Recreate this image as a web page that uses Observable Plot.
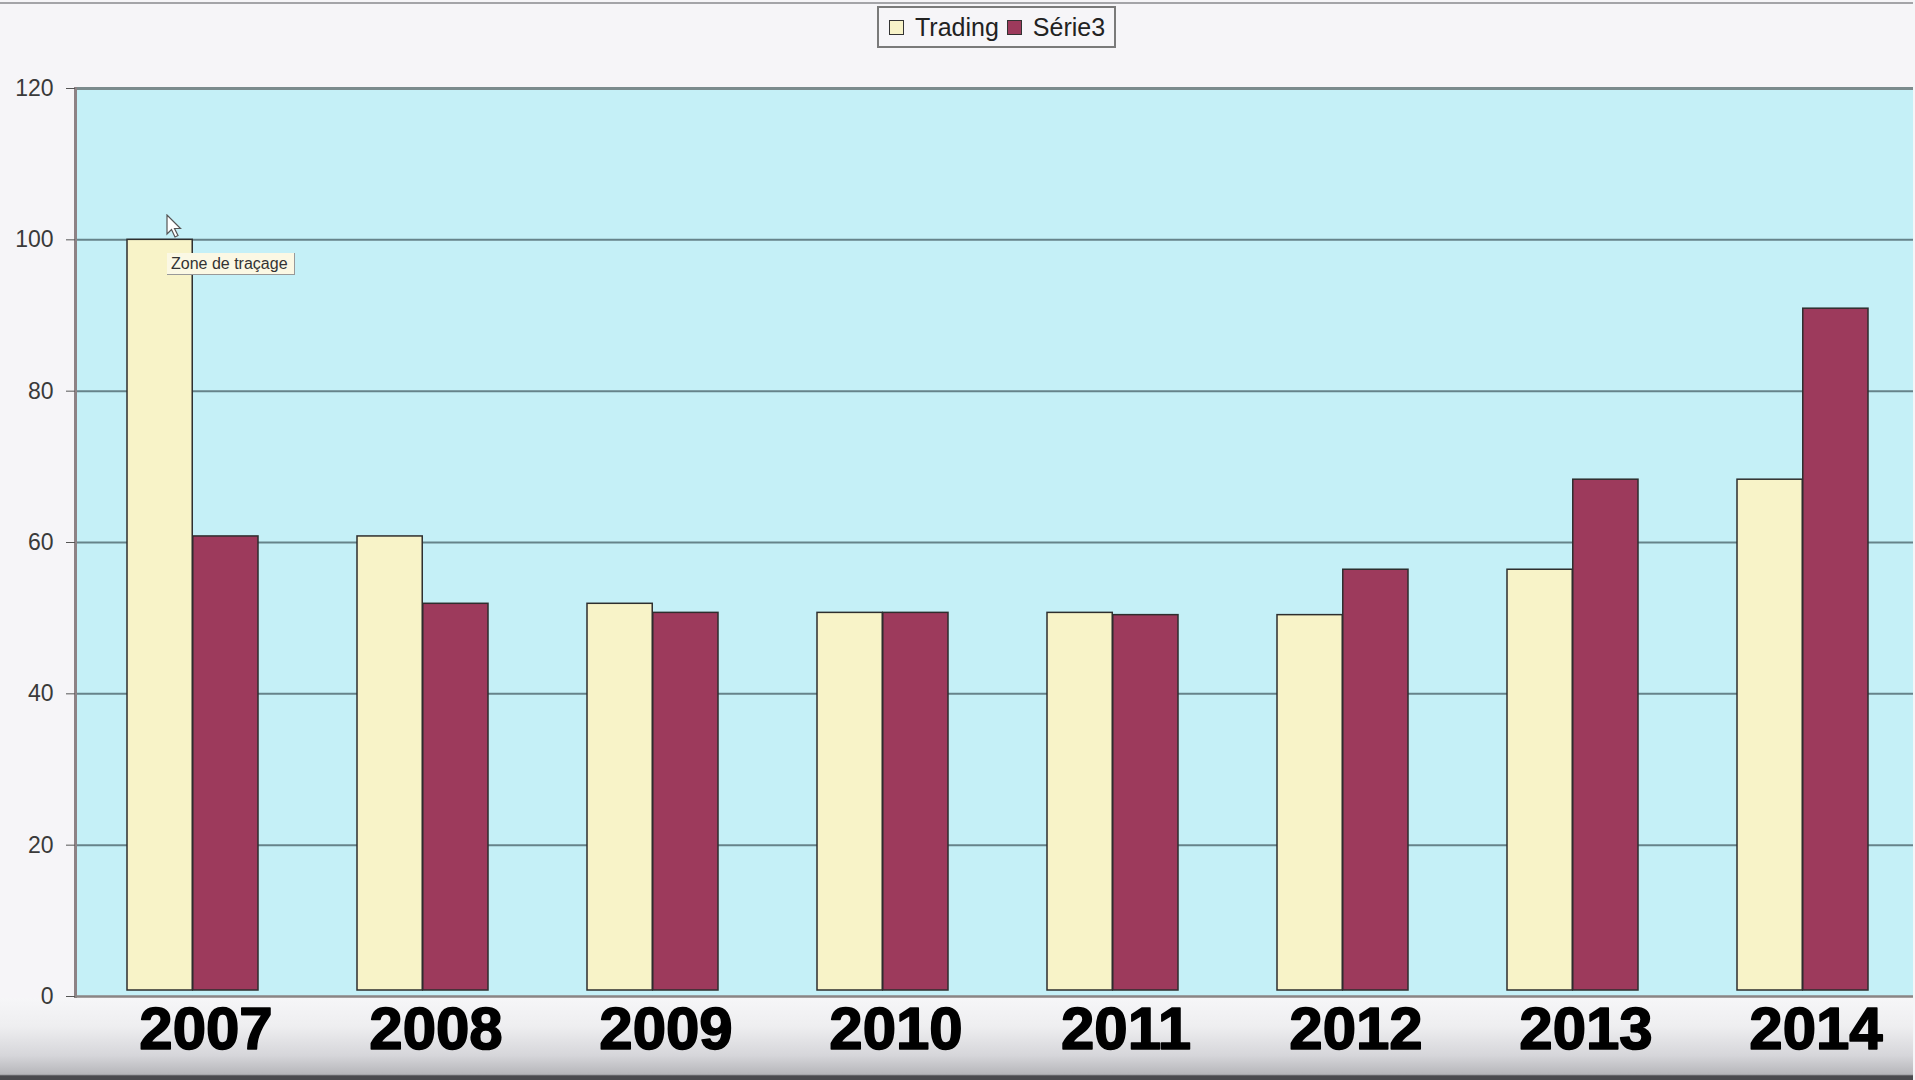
<!DOCTYPE html>
<html>
<head>
<meta charset="utf-8">
<script src="https://cdn.jsdelivr.net/npm/d3@7"></script>
<script src="https://cdn.jsdelivr.net/npm/@observablehq/plot@0.6"></script>
<style>
  html, body { margin: 0; padding: 0; background: #f6f5f8; overflow: hidden; }
  #page { position: relative; width: 1913px; height: 1080px; overflow: hidden; background: #f6f5f8; font-family: "Liberation Sans", Arial, sans-serif; }
  #topline { position: absolute; left: 0; top: 2px; width: 100%; height: 2px; background: #a4a4a8; }
  #bottomband { position: absolute; left: 0; top: 998px; width: 100%; height: 82px;
    background: linear-gradient(to bottom, #f6f6f8 0%, #eeeef0 35%, #d6d6da 70%, #b6b6ba 93%, #4a4a4e 95%, #4a4a4e 100%); }
  #chart { position: absolute; left: 0; top: 0; width: 1932px; }
  #chart svg { max-width: none !important; }
  #legend { position: absolute; left: 877px; top: 6px; height: 38px; border: 2px solid #7a7a7a; background: #f6f5f8;
    display: flex; align-items: center; padding: 0 9px 0 10px; gap: 8px; font-size: 25px; color: #222; }
  .item { display: flex; align-items: center; gap: 11px; }
  .sw { width: 13px; height: 13px; border: 1.5px solid #333; }
  #tip { position: absolute; left: 167px; top: 253px; width: 128px; height: 22px; background: #fbf8e4;
    border-right: 1px solid #999; border-bottom: 1px solid #999; font-size: 16px; color: #333; line-height: 22px; padding-left: 4px; box-sizing: border-box; white-space: nowrap; }
  #cursor { position: absolute; left: 166px; top: 214px; }
</style>
</head>
<body>
<div id="page">
  <div id="topline"></div>
  <div id="bottomband"></div>
  <div id="chart"></div>
  <div id="legend"></div>
  <div id="tip">Zone de traçage</div>
  <svg id="cursor" width="20" height="26"><path d="M1,1 L1,20 L5.5,15.5 L9,23 L12,21.5 L8.5,14.5 L14.5,14.5 Z" fill="#fff" stroke="#555" stroke-width="1.2"/></svg>
</div>
<script>
const years = ["2007", "2008", "2009", "2010", "2011", "2012", "2013", "2014"];
const seriesNames = ["Trading", "Série3"];
const trading = [100, 60.8, 51.9, 50.7, 50.7, 50.4, 56.4, 68.3];
const serie3 = [60.8, 51.9, 50.7, 50.7, 50.4, 56.4, 68.3, 90.9];
const yTicks = [0, 20, 40, 60, 80, 100, 120];
const colors = ["#f8f3c8", "#9d3a5c"];

const W = 1932, H = 1080;
const mL = 75, mR = 11, mT = 88, mB = 84;
const pInner = 0.43, pOuter = 0.215;
const bw = d3.scaleBand().domain(years).range([mL, W - mR]).paddingInner(pInner).paddingOuter(pOuter).bandwidth();
const half = bw / 2;

const rowsT = years.map((y, i) => ({year: y, series: seriesNames[0], value: trading[i]}));
const rowsS = years.map((y, i) => ({year: y, series: seriesNames[1], value: serie3[i]}));

const chart = Plot.plot({
  width: W, height: H,
  marginLeft: mL, marginRight: mR, marginTop: mT, marginBottom: mB,
  style: {background: "transparent", fontFamily: "'Liberation Sans', Arial, sans-serif", maxWidth: "none"},
  x: {type: "band", domain: years, paddingInner: pInner, paddingOuter: pOuter, label: null},
  y: {domain: [0, 120], label: null},
  color: {domain: seriesNames, range: colors},
  marks: [
    Plot.frame({fill: "#c5f0f7", stroke: "none"}),
    Plot.gridY(yTicks.filter(d => d > 0 && d < 120), {stroke: "#66838a", strokeOpacity: 1, strokeWidth: 2}),
    Plot.ruleY([120], {stroke: "#7b8b8d", strokeWidth: 3}),
    Plot.barY(rowsT, {x: "year", y: "value", fill: "series", stroke: "#2e2e2e", strokeWidth: 1.5, insetRight: half, insetBottom: 6}),
    Plot.barY(rowsS, {x: "year", y: "value", fill: "series", stroke: "#2e2e2e", strokeWidth: 1.5, insetLeft: half, insetBottom: 6}),
    Plot.frame({anchor: "left", stroke: "#8d8285", strokeWidth: 3}),
    Plot.frame({anchor: "bottom", stroke: "#8a8585", strokeWidth: 2.5}),
    Plot.axisY({ticks: yTicks, tickSize: 9, tickPadding: 13, fontSize: 23, color: "#3a3a3a", stroke: "#555", label: null}),
    Plot.axisX({ticks: [], label: null}),
    Plot.text(years, {x: d => d, frameAnchor: "bottom", lineAnchor: "top", dy: 10, dx: 13,
      fontSize: 60, fontWeight: "bold", fill: "#000", stroke: "#000", strokeWidth: 1.6})
  ]
});
chart.style.maxWidth = "none";
document.getElementById("chart").appendChild(chart);

const legend = document.getElementById("legend");
seriesNames.forEach((name, i) => {
  const it = document.createElement("div");
  it.className = "item";
  const sw = document.createElement("div");
  sw.className = "sw";
  sw.style.background = colors[i];
  const tx = document.createElement("span");
  tx.textContent = name;
  it.appendChild(sw);
  it.appendChild(tx);
  legend.appendChild(it);
});
</script>
</body>
</html>
